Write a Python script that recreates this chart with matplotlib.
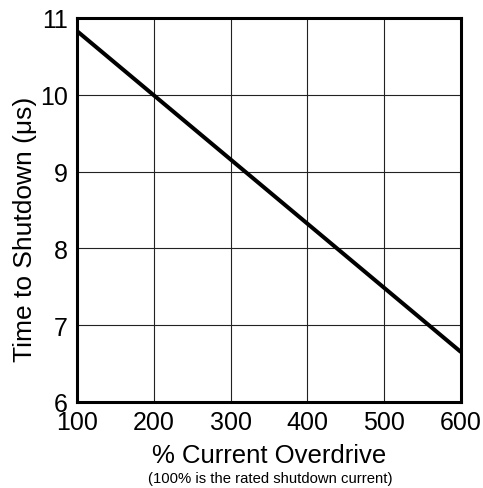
import matplotlib.pyplot as plt

# Dati
overdrive = [100, 600]
t_shutdown = [10.83, 6.65]
x_ticks = [100, 200, 300, 400, 500, 600]
y_ticks = [6, 7, 8, 9, 10, 11]

plt.rcParams['font.family'] = ['Liberation Sans', 'DejaVu Sans']

W, H = 483, 489
fig = plt.figure(figsize=(W / 100, H / 100), dpi=100)
ax = fig.add_axes([77 / W, 1 - 403 / H, 384 / W, 384 / H])

ax.plot(overdrive, t_shutdown, color='black', linewidth=2.9, solid_capstyle='butt')

ax.set_xlim(100, 600)
ax.set_ylim(6, 11)
ax.set_xticks(x_ticks)
ax.set_yticks(y_ticks)
ax.tick_params(length=0, labelsize=18)
ax.tick_params(axis='x', pad=6)
ax.tick_params(axis='y', pad=6.5)
ax.grid(True, color='#222222', linewidth=0.8)
for s in ax.spines.values():
    s.set_linewidth(2.2)

# etichette assi posizionate a mano
fig.text(269 / W, 1 - 463 / H, "% Current Overdrive", ha='center', va='baseline', fontsize=18.5)
fig.text(25 / W, 1 - 229 / H, "Time to Shutdown (\u03bcs)", ha='center', va='center',
         rotation=90, fontsize=19)
fig.text(270 / W, 1 - 483 / H, "(100% is the rated shutdown current)", ha='center',
         va='baseline', fontsize=10.7)

fig.savefig("out.png", dpi=100)
